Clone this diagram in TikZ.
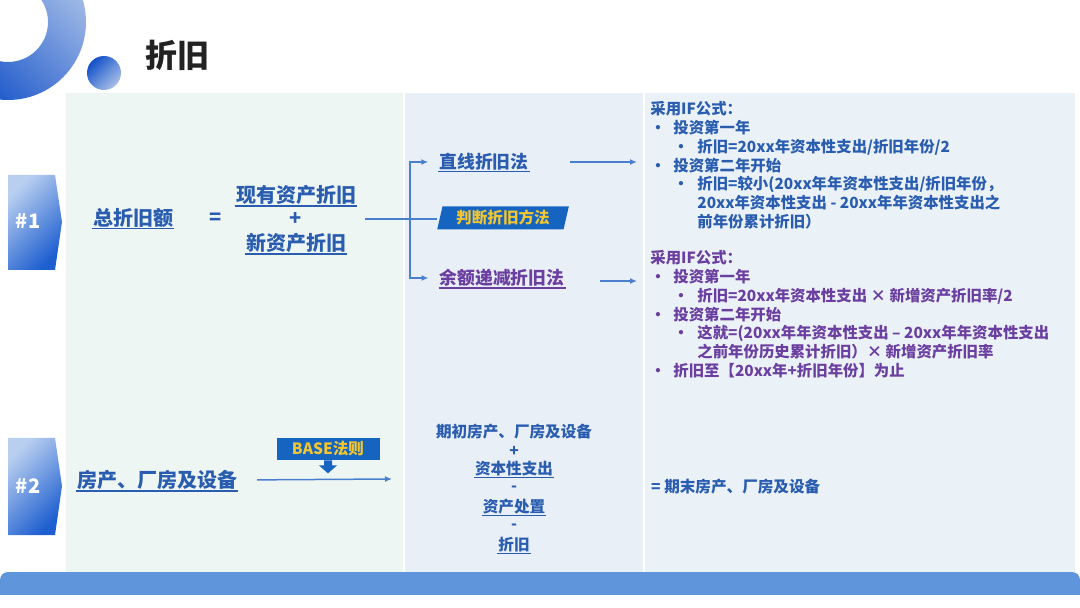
\documentclass[tikz,border=0pt]{standalone}
\usepackage{fontspec}
\setmainfont{Noto Sans CJK SC}
\usetikzlibrary{arrows.meta, positioning, shapes.geometric, calc}

\definecolor{panelA}{HTML}{EEF6F3}
\definecolor{panelB}{HTML}{E9EFF6}
\definecolor{panelC}{HTML}{EBF2F7}
\definecolor{barblue}{HTML}{5F95DA}
\definecolor{txtblue}{HTML}{2A5DB0}
\definecolor{txtpurple}{HTML}{6B3FA0}
\definecolor{lineblue}{HTML}{4A7FD0}
\definecolor{boxblue}{HTML}{1565C0}
\definecolor{tipyellow}{HTML}{F2C531}
\definecolor{tagLight}{HTML}{B9CFF0}
\definecolor{tagDark}{HTML}{1D5ED0}
\definecolor{ringLight}{HTML}{A9C0E8}
\definecolor{ringDark}{HTML}{1250C8}
\definecolor{titleblack}{HTML}{222222}

\newcommand{\itemA}[1]{\makebox[11.5pt][l]{•}#1}
\newcommand{\itemB}[1]{\hspace*{11.5pt}\makebox[12pt][l]{•}#1}
\newcommand{\itemC}[1]{\hspace*{23.5pt}#1}

\begin{document}
\begin{tikzpicture}[x=0.5pt, y=-0.5pt, >={Latex[length=3.5pt,width=3pt]},
  lbl/.style={inner sep=0.6pt, outer sep=0pt, text=txtblue,
              font=\bfseries\fontsize{10}{10}\selectfont},
  ul/.style={append after command={(\tikzlastnode.south west)
             edge[draw=#1, line width=0.7pt] (\tikzlastnode.south east)}},
  ul/.default=txtblue,
  plain/.style={},
  link/.style={draw=lineblue, line width=0.75pt},
  tagfill/.style={left color=tagLight, right color=tagDark, shading angle=45},
  tagtext/.style={text=white, font=\bfseries\fontsize{10}{10}\selectfont},
  tipbox/.style={fill=boxblue, text=tipyellow, inner sep=0pt,
                 font=\bfseries\fontsize{7.8}{8}\selectfont},
  block/.style={align=left, anchor=north west, inner sep=0pt,
                font=\bfseries\fontsize{7.7}{9.4}\selectfont}]
  \useasboundingbox (0,0) rectangle (1080,608);
  \clip (0,0) rectangle (1080,608);

  % background panels and bottom bar
  \fill[panelA] (66,93) rectangle (403,572);
  \fill[panelB] (405,93) rectangle (643,572);
  \fill[panelC] (645,93) rectangle (1075,572);
  \fill[barblue, rounded corners=4pt] (0,572) rectangle (1080,604);
  \fill[white] (0,595) rectangle (1080,608);

  % header: ring, dot, title
  \shade[even odd rule, left color=ringLight, right color=ringDark, shading angle=-45]
    (8,22) circle[radius=78] (8,22) circle[radius=40];
  \shade[left color=ringDark, right color=ringLight, shading angle=45]
    (104,73) circle[radius=17];
  \node[text=titleblack, font=\bfseries\fontsize{16}{16}\selectfont] (title) at (177,55) {折旧};

  % tags
  \shade[tagfill] (8,175) -- (55,175) -- (62,222) -- (55,270) -- (8,270) -- cycle;
  \node[tagtext] (tag1) at (28,221) {\#1};
  \shade[tagfill] (8,438) -- (55,438) -- (62,486) -- (55,535) -- (8,535) -- cycle;
  \node[tagtext] (tag2) at (28,486) {\#2};

  % Row 1: total depreciation
  \node[lbl, ul] (total) at (133,218) {总折旧额};
  \node[lbl] (eq) at (216,219) {=};
  \node[lbl, ul] (cur) at (296,195) {现有资产折旧};
  \node[lbl] (plus) at (296,219) {+};
  \node[lbl, ul] (new) at (296,243) {新资产折旧};
  \coordinate (from1) at (365,219);
  \coordinate (fork) at (410,219);

  \node[lbl, ul, font=\bfseries\fontsize{8.9}{9}\selectfont] (straight) at (484,162) {直线折旧法};
  \node[lbl, ul=txtpurple, text=txtpurple, font=\bfseries\fontsize{8.9}{9}\selectfont]
    (decl) at (502,278) {余额递减折旧法};

  \draw[link] (from1) -- (fork) -- (437,219);
  \node[tipbox, trapezium, trapezium left angle=75, trapezium right angle=105,
        trapezium stretches=true, minimum width=66pt, minimum height=11.5pt]
    (judge) at (503,218) {判断折旧方法};
  \draw[link, ->, shorten >=5pt] (fork) |- (straight.west);
  \draw[link, ->, shorten >=5pt] (fork) |- (decl.west);

  \coordinate (ifA) at (637,162);
  \coordinate (ifB) at (637,281);
  \draw[link, ->, shorten <=20pt] (straight.east) -- (ifA);
  \draw[link, ->] (600,281) -- (ifB);

  \node[block, text=txtblue] (ruleA) at (650,101) {%
    采用IF公式：\\
    \itemA{投资第一年}\\
    \itemB{折旧=20xx年资本性支出/折旧年份/2}\\
    \itemA{投资第二年开始}\\
    \itemB{折旧=较小(20xx年年资本性支出/折旧年份，}\\
    \itemC{20xx年资本性支出 - 20xx年年资本性支出之}\\
    \itemC{前年份累计折旧）}};
  \node[block, text=txtpurple] (ruleB) at (650,250) {%
    采用IF公式：\\
    \itemA{投资第一年}\\
    \itemB{折旧=20xx年资本性支出 × 新增资产折旧率/2}\\
    \itemA{投资第二年开始}\\
    \itemB{这就=(20xx年年资本性支出 – 20xx年年资本性支出}\\
    \itemC{之前年份历史累计折旧）× 新增资产折旧率}\\
    \itemA{折旧至【20xx年+折旧年份】为止}};

  % Row 2: PP&E roll-forward
  \node[lbl, ul] (ppe) at (157,480) {房产、厂房及设备};
  \coordinate (col2in) at (392,479);
  \draw[link, ->, shorten <=9.5pt] (ppe.east) -- (col2in);
  \node[tipbox, minimum width=51.5pt, minimum height=11pt] (base) at (328,449) {BASE法则};
  \fill[boxblue, shift={(base.south)}]
    (-4,0) -- (4,0) -- (4,5) -- (9,5) -- (0,13) -- (-9,5) -- (-4,5) -- cycle;

  \foreach \n/\y/\t/\s in {open/432/{期初房产、厂房及设备}/plain, p1/451/{+}/plain,
      capex/469/{资本性支出}/ul, m1/489/{-}/plain, disp/507/{资产处置}/ul,
      m2/527/{-}/plain, dep/545/{折旧}/ul} {
    \node[lbl, \s, font=\bfseries\fontsize{7.8}{8}\selectfont] (\n) at (514,\y) {\t};
  }
  \node[lbl, anchor=west, font=\bfseries\fontsize{7.8}{8}\selectfont] (closing) at (650,487)
    {= 期末房产、厂房及设备};
\end{tikzpicture}
\end{document}
